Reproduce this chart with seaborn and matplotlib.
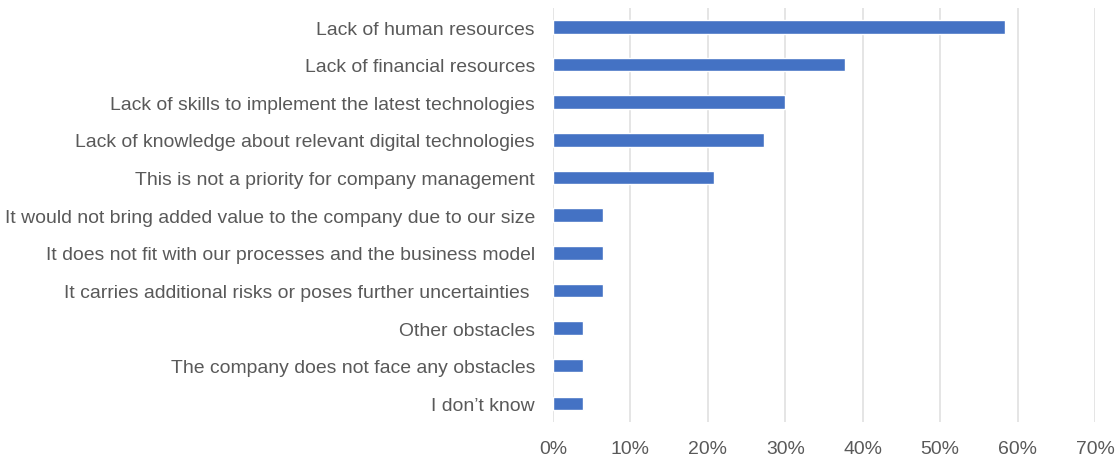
import matplotlib
matplotlib.use("Agg")
import matplotlib.pyplot as plt
from matplotlib.ticker import PercentFormatter
import seaborn as sns
import pandas as pd

# Obstacles to adopting digital technologies (share of respondents, %)
obstacles = [
    "Lack of human resources",
    "Lack of financial resources",
    "Lack of skills to implement the latest technologies",
    "Lack of knowledge about relevant digital technologies",
    "This is not a priority for company management",
    "It would not bring added value to the company due to our size",
    "It does not fit with our processes and the business model",
    "It carries additional risks or poses further uncertainties ",
    "Other obstacles",
    "The company does not face any obstacles",
    "I don\u2019t know",
]
shares = [58.4, 37.7, 29.9, 27.3, 20.8, 6.5, 6.5, 6.5, 3.9, 3.9, 3.9]
x_ticks = [0, 10, 20, 30, 40, 50, 60, 70]

df = pd.DataFrame({"obstacle": obstacles, "share": shares})

sns.set_theme(style="white")
plt.rcParams["font.family"] = ["Liberation Sans", "DejaVu Sans"]

text_color = "#595959"
grid_color = "#dedede"
bar_color = "#4472C4"

fig = plt.figure(figsize=(11.18, 4.56), dpi=100)
ax = fig.add_axes([553 / 1118, 1 - 423.1 / 456, (1095 - 553) / 1118, (423.1 - 9.2) / 456])

sns.barplot(data=df, x="share", y="obstacle", order=obstacles, color=bar_color,
            width=0.36, saturation=1, ax=ax, zorder=3)

ax.set_xlim(0, 70)
ax.set_ylim(len(obstacles) - 0.5, -0.5)
ax.set_xticks(x_ticks)
ax.xaxis.set_major_formatter(PercentFormatter(decimals=0))
ax.grid(axis="x", color=grid_color, linewidth=1.1, zorder=0)
ax.set_axisbelow(True)
for side in ("top", "right", "bottom", "left"):
    ax.spines[side].set_visible(False)
ax.set_xlabel("")
ax.set_ylabel("")
ax.tick_params(axis="y", length=0, pad=13, labelsize=13.95, labelcolor=text_color)
ax.tick_params(axis="x", length=0, pad=13, labelsize=13.95, labelcolor=text_color)

fig.savefig("out.png", dpi=100, facecolor="white")
